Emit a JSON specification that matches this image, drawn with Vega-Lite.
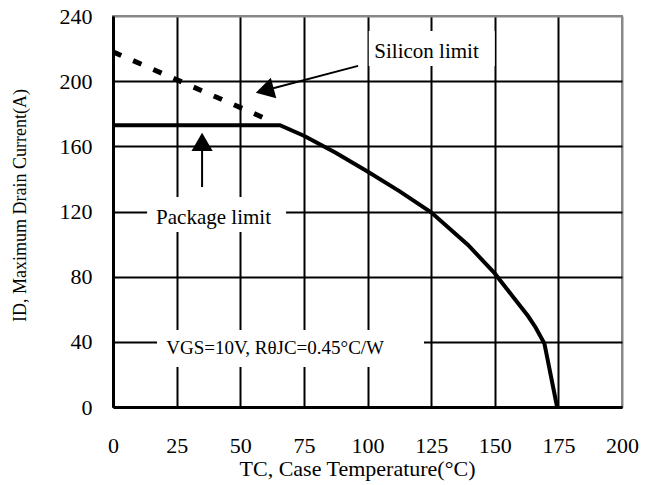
{
  "$schema": "https://vega.github.io/schema/vega-lite/v6.json",
  "width": 509,
  "height": 391,
  "autosize": {"type": "none"},
  "padding": {"left": 113, "top": 16, "right": 30, "bottom": 78},
  "background": "white",
  "config": {
    "view": {"stroke": "#888888", "strokeWidth": 2},
    "font": "Liberation Serif"
  },
  "datasets": {
    "boxes": [
      {"x": 100.5, "x2": 150, "y": 230.8, "y2": 209.3},
      {"x": 13.4, "x2": 68.0, "y": 128.9, "y2": 107.4},
      {"x": 17.3, "x2": 122.2, "y": 47.3, "y2": 24.6}
    ],
    "curve": [
      {"x": 0, "y": 173},
      {"x": 65.6, "y": 173},
      {"x": 75, "y": 166.5},
      {"x": 87.5, "y": 156},
      {"x": 100, "y": 144.5},
      {"x": 112.5, "y": 132.5},
      {"x": 125, "y": 119.5},
      {"x": 139.5, "y": 99.5},
      {"x": 150, "y": 82},
      {"x": 157, "y": 68},
      {"x": 163, "y": 56},
      {"x": 166, "y": 49},
      {"x": 169.5, "y": 39},
      {"x": 174.5, "y": 0}
    ],
    "silicon": [
      {"x": 0, "y": 218},
      {"x": 61, "y": 176.3}
    ],
    "arrows": [
      {"x": 96.3, "y": 209.4, "x2": 59.6, "y2": 194.3},
      {"x": 35.0, "y": 135.0, "x2": 35.0, "y2": 162.7}
    ],
    "heads": [
      {"x": 59.6, "y": 194.3, "angle": 255},
      {"x": 35.0, "y": 162.7, "angle": 0}
    ],
    "labels": [
      {"x": 123.2, "y": 218, "text": "Silicon limit", "size": 21},
      {"x": 39.5, "y": 116, "text": "Package limit", "size": 21},
      {"x": 63.7, "y": 36.2, "text": "VGS=10V, RθJC=0.45°C/W", "size": 19}
    ]
  },
  "layer": [
    {
      "data": {"name": "boxes"},
      "mark": {"type": "rect", "fill": "white", "stroke": null},
      "encoding": {
        "x": {
          "field": "x", "type": "quantitative",
          "scale": {"domain": [0, 200], "nice": false, "zero": false},
          "axis": {
            "title": "TC, Case Temperature(°C)",
            "values": [0, 25, 50, 75, 100, 125, 150, 175, 200],
            "grid": true,
            "gridColor": {"condition": {"test": "datum.value >= 200", "value": "#888888"}, "value": "black"},
            "gridWidth": 2,
            "domainColor": "black",
            "domainWidth": 3,
            "ticks": false,
            "labelFont": "Liberation Serif",
            "labelFontSize": 22,
            "labelColor": "black",
            "labelBaseline": "middle",
            "labelPadding": 38,
            "labelFlush": false,
            "labelOverlap": false,
            "titleFont": "Liberation Serif",
            "titleFontSize": 22,
            "titleFontWeight": "normal",
            "titleColor": "black",
            "titleBaseline": "middle",
            "titleY": 61,
            "titleX": 244
          }
        },
        "x2": {"field": "x2"},
        "y": {
          "field": "y", "type": "quantitative",
          "scale": {"domain": [0, 240], "nice": false, "zero": false},
          "axis": {
            "title": "ID, Maximum Drain Current(A)",
            "values": [0, 40, 80, 120, 160, 200, 240],
            "grid": true,
            "gridColor": {"condition": {"test": "datum.value >= 240", "value": "#888888"}, "value": "black"},
            "gridWidth": 2,
            "domainColor": "black",
            "domainWidth": 3,
            "ticks": false,
            "labelFont": "Liberation Serif",
            "labelFontSize": 22,
            "labelColor": "black",
            "labelPadding": 21,
            "labelFlush": false,
            "labelOverlap": false,
            "titleFont": "Liberation Serif",
            "titleFontSize": 18,
            "titleFontWeight": "normal",
            "titleColor": "black",
            "titleBaseline": "middle",
            "titleX": -93,
            "titleY": 189
          }
        },
        "y2": {"field": "y2"}
      }
    },
    {
      "data": {"name": "curve"},
      "mark": {"type": "line", "color": "black", "strokeWidth": 4, "strokeJoin": "miter"},
      "encoding": {
        "x": {"field": "x", "type": "quantitative"},
        "y": {"field": "y", "type": "quantitative"}
      }
    },
    {
      "data": {"name": "silicon"},
      "mark": {"type": "line", "color": "black", "strokeWidth": 5, "strokeDash": [9, 13]},
      "encoding": {
        "x": {"field": "x", "type": "quantitative"},
        "y": {"field": "y", "type": "quantitative"}
      }
    },
    {
      "data": {"name": "arrows"},
      "mark": {"type": "rule", "color": "black", "strokeWidth": 2},
      "encoding": {
        "x": {"field": "x", "type": "quantitative"},
        "y": {"field": "y", "type": "quantitative"},
        "x2": {"field": "x2"},
        "y2": {"field": "y2"}
      }
    },
    {
      "data": {"name": "heads"},
      "mark": {"type": "point", "shape": "triangle-up", "filled": true, "color": "black", "size": 450, "opacity": 1},
      "encoding": {
        "x": {"field": "x", "type": "quantitative"},
        "y": {"field": "y", "type": "quantitative"},
        "angle": {"field": "angle", "type": "quantitative", "scale": null}
      }
    },
    {
      "data": {"name": "labels"},
      "mark": {"type": "text", "font": "Liberation Serif", "color": "black", "align": "center", "baseline": "middle"},
      "encoding": {
        "x": {"field": "x", "type": "quantitative"},
        "y": {"field": "y", "type": "quantitative"},
        "text": {"field": "text"},
        "size": {"field": "size", "type": "quantitative", "scale": null}
      }
    }
  ]
}
